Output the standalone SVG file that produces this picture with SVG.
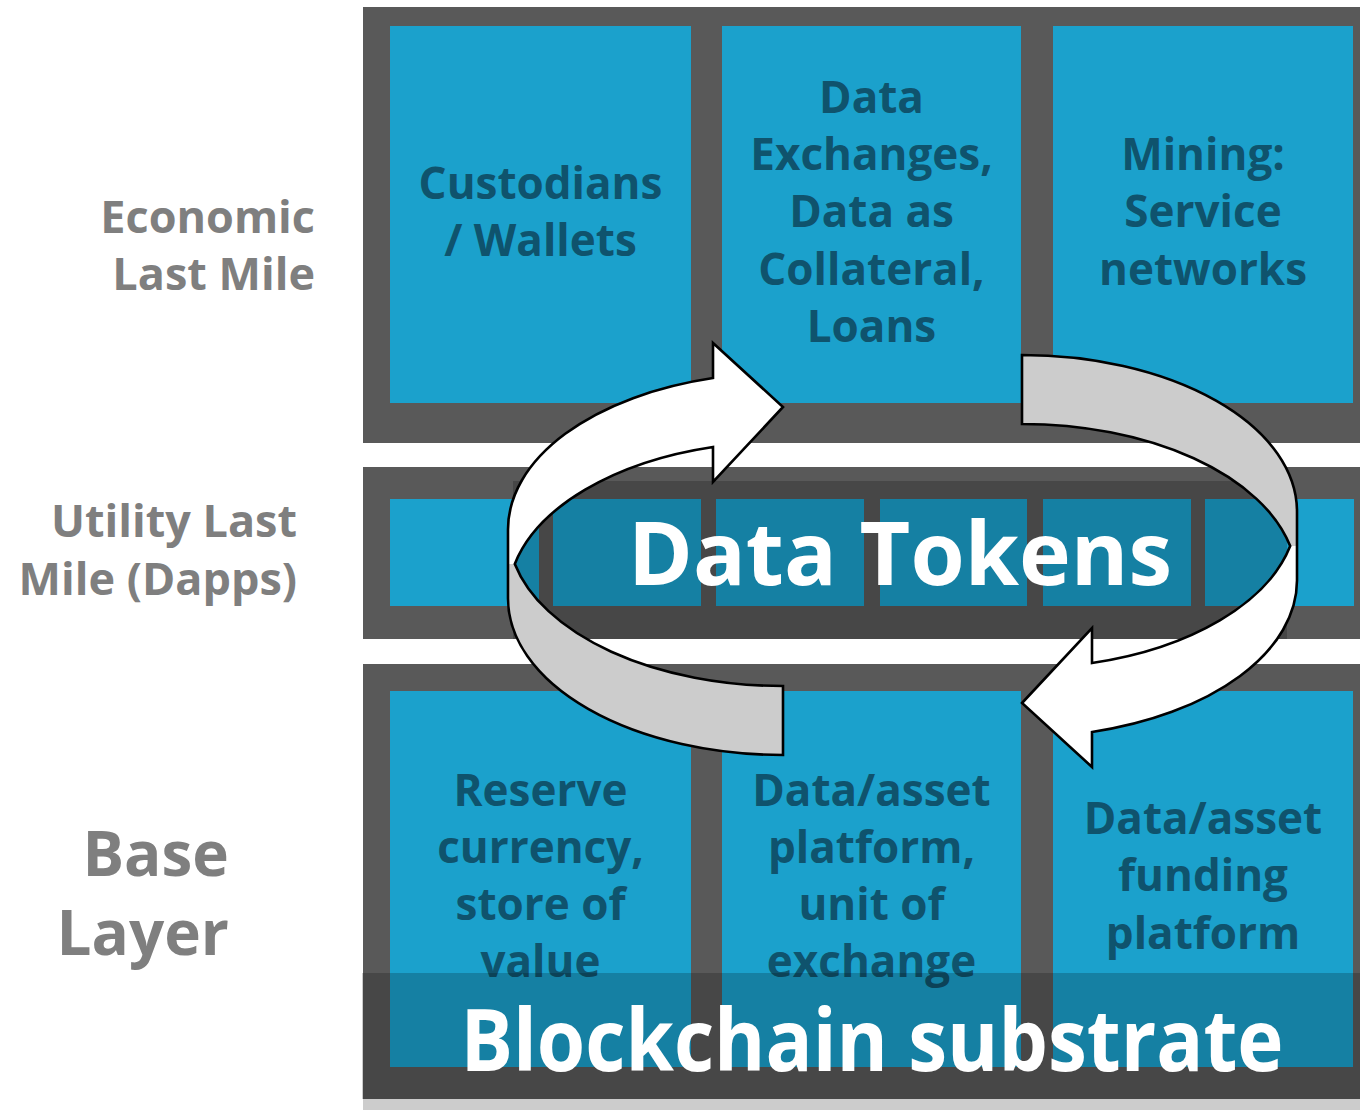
<svg xmlns="http://www.w3.org/2000/svg" width="1360" height="1110" viewBox="0 0 1360 1110">
<style>
.band{fill:#595959}
.box{fill:#1ba1cc}
.shade{fill:#000;fill-opacity:0.2}
.bt{font-family:"Open Sans","DejaVu Sans",sans-serif;font-weight:700;font-size:44px;fill:#0f536d;text-anchor:middle}
.lb{font-family:"Open Sans","DejaVu Sans",sans-serif;font-weight:700;font-size:45px;fill:#7f7f7f;text-anchor:end}
.big{font-family:"Open Sans","DejaVu Sans",sans-serif;font-weight:700;fill:#ffffff;text-anchor:middle}
.front{fill:#ffffff}
.back{fill:#cccccc}
.edge{fill:none;stroke:#000;stroke-width:2.6;stroke-linejoin:miter}
</style>
<defs>
<g id="curvedArrow">
<path class="back" d="M 783,686 L 783,755 A 275 156.6 0 0 1 508,598.4 L 508,563.9 L 514.8,563.9 A 275 156.6 0 0 0 783,686 Z"/>
<path class="front" d="M 508,529.4 A 275 156.6 0 0 1 713,378 L 713,343 L 783,407 L 713,482 L 713,447 A 275 156.6 0 0 0 514.8,563.9 L 508,563.9 Z"/>
<path class="edge" d="M 514.8,563.9 A 275 156.6 0 0 0 783,686 L 783,755 A 275 156.6 0 0 1 508,598.4 L 508,529.4 A 275 156.6 0 0 1 713,378 L 713,343 L 783,407 L 713,482 L 713,447 A 275 156.6 0 0 0 514.8,563.9 Z"/>
</g>
</defs>
<rect width="1360" height="1110" fill="#ffffff"/>

<g id="labels">
<text class="lb" x="315" y="233">Economic</text>
<text class="lb" x="315" y="290">Last Mile</text>
<text class="lb" x="297" y="537">Utility Last</text>
<text class="lb" x="297" y="595">Mile (Dapps)</text>
<text class="lb" x="229" y="876" style="font-size:62px">Base</text>
<text class="lb" x="229" y="955" style="font-size:62px">Layer</text>
</g>

<g id="economic-layer">
<rect class="band" x="363" y="7" width="997" height="436"/>
<g id="custodians">
<rect class="box" x="390" y="26" width="301" height="377"/>
<text class="bt" x="540.5" y="199">Custodians</text>
<text class="bt" x="540.5" y="256">/ Wallets</text>
</g>
<g id="data-exchanges">
<rect class="box" x="722" y="26" width="299" height="377"/>
<text class="bt" x="871.5" y="113">Data</text>
<text class="bt" x="871.5" y="170">Exchanges,</text>
<text class="bt" x="871.5" y="227">Data as</text>
<text class="bt" x="871.5" y="285">Collateral,</text>
<text class="bt" x="871.5" y="342">Loans</text>
</g>
<g id="mining">
<rect class="box" x="1053" y="26" width="300" height="377"/>
<text class="bt" x="1203" y="170">Mining:</text>
<text class="bt" x="1203" y="227">Service</text>
<text class="bt" x="1203" y="285">networks</text>
</g>
</g>

<g id="utility-layer">
<rect class="band" x="363" y="467" width="997" height="172"/>
<rect class="box" x="390" y="499" width="149" height="107"/>
<rect class="box" x="553" y="499" width="148" height="107"/>
<rect class="box" x="716" y="499" width="148" height="107"/>
<rect class="box" x="880" y="499" width="147" height="107"/>
<rect class="box" x="1043" y="499" width="148" height="107"/>
<rect class="box" x="1205" y="499" width="149" height="107"/>
<rect class="shade" x="513" y="481" width="774" height="158"/>
<g id="data-tokens">
<text class="big" x="900" y="585" style="font-size:88px" textLength="544" lengthAdjust="spacingAndGlyphs">Data Tokens</text>
</g>
</g>

<g id="base-layer">
<rect x="363" y="1099" width="997" height="11" fill="#cccccc"/>
<rect class="band" x="363" y="664" width="997" height="435"/>
<g id="reserve-currency">
<rect class="box" x="390" y="691" width="301" height="376"/>
<text class="bt" x="540.5" y="806">Reserve</text>
<text class="bt" x="540.5" y="863">currency,</text>
<text class="bt" x="540.5" y="920">store of</text>
<text class="bt" x="540.5" y="977">value</text>
</g>
<g id="data-asset-platform">
<rect class="box" x="722" y="691" width="299" height="376"/>
<text class="bt" x="871.5" y="806">Data/asset</text>
<text class="bt" x="871.5" y="863">platform,</text>
<text class="bt" x="871.5" y="920">unit of</text>
<text class="bt" x="871.5" y="977">exchange</text>
</g>
<g id="data-asset-funding">
<rect class="box" x="1053" y="691" width="300" height="376"/>
<text class="bt" x="1203" y="834">Data/asset</text>
<text class="bt" x="1203" y="891">funding</text>
<text class="bt" x="1203" y="949">platform</text>
</g>
<rect class="shade" x="362" y="973" width="998" height="126"/>
<g id="blockchain-substrate">
<text class="big" x="872" y="1071" style="font-size:86px" textLength="823" lengthAdjust="spacingAndGlyphs">Blockchain substrate</text>
</g>
</g>

<g id="connectors">
<use href="#curvedArrow"/>
<use href="#curvedArrow" transform="rotate(180 902.5 555)"/>
</g>
</svg>
